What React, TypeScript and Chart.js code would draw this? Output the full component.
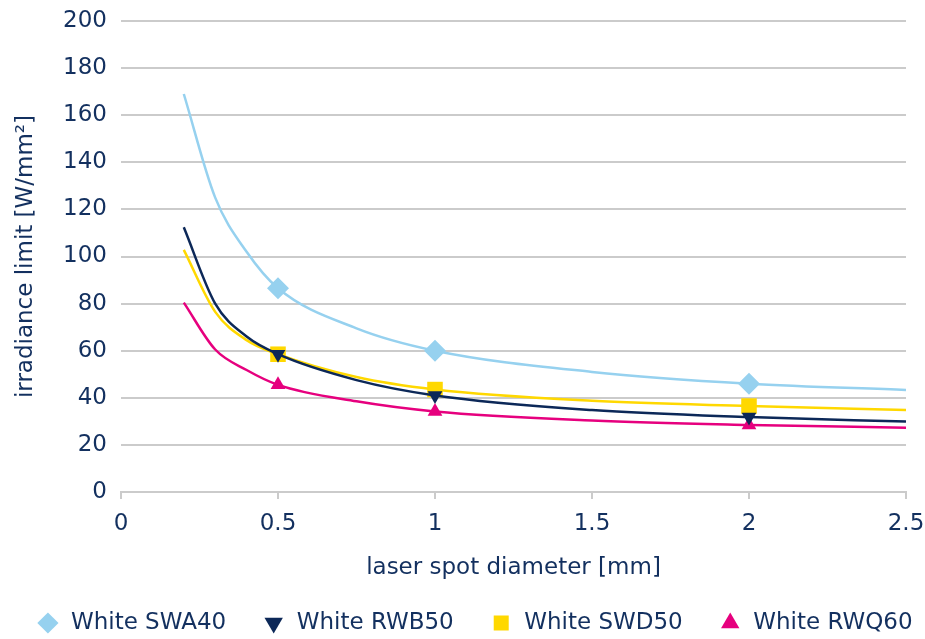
import React, { useEffect, useRef } from 'react';
import { Chart, registerables } from 'chart.js';

Chart.register(...registerables);

// ---- data ----
const diameters = [0.2, 0.3, 0.4, 0.5, 0.75, 1, 1.5, 2, 2.5];
const markerDiameters = [0.5, 1, 2];
const whiteSWA40 = [169, 125, 102, 86.5, 69.5, 60, 51, 46, 43.3];
const whiteRWB50 = [112.4, 80, 66, 58.5, 47.5, 41, 34.8, 31.8, 29.9];
const whiteSWD50 = [102.8, 76.5, 64.5, 58.5, 48.8, 43.5, 38.7, 36.5, 34.8];
const whiteRWQ60 = [80.4, 60.5, 51.8, 45.5, 38.5, 34.2, 30.4, 28.5, 27.3];
const seriesNames = ['White SWA40', 'White RWB50', 'White SWD50', 'White RWQ60'];
const xTitle = 'laser spot diameter [mm]';
const yTitle = 'irradiance limit [W/mm\u00B2]';

const TEXT = '#13305f';
const GRID = '#cbcbcb';
const FONT = 'DejaVu Sans';
const FS = 23;

export default function App() {
  const ref = useRef<HTMLCanvasElement | null>(null);

  useEffect(() => {
    if (!ref.current) return;
    const mk = (
      label: string,
      values: number[],
      color: string,
      style: string,
      radius: number,
      rotation = 0
    ) => ({
      label,
      data: diameters.map((d, i) => ({ x: d, y: values[i] })),
      borderColor: color,
      backgroundColor: color,
      borderWidth: 2.5,
      cubicInterpolationMode: 'monotone' as const,
      pointStyle: style,
      pointRotation: rotation,
      pointBorderWidth: 0,
      pointRadius: (ctx: any) =>
        markerDiameters.includes(diameters[ctx.dataIndex]) ? radius : 0,
      pointHoverRadius: (ctx: any) =>
        markerDiameters.includes(diameters[ctx.dataIndex]) ? radius : 0,
    });

    const chart = new Chart(ref.current, {
      type: 'line',
      data: {
        datasets: [
          mk(seriesNames[0], whiteSWA40, '#96d1ef', 'rectRot', 11),
          mk(seriesNames[1], whiteRWB50, '#0c2858', 'triangle', 8.5, 180),
          mk(seriesNames[2], whiteSWD50, '#ffd800', 'rect', 11),
          mk(seriesNames[3], whiteRWQ60, '#e6007e', 'triangle', 8.5),
        ] as any,
      },
      options: {
        animation: false,
        responsive: false,
        maintainAspectRatio: false,
        events: [],
        layout: { padding: { left: -8, right: -32, top: 21, bottom: -5.5 } },
        plugins: {
          legend: {
            position: 'bottom',
            labels: {
              usePointStyle: true,
              boxHeight: 15,
              padding: 36,
              color: TEXT,
              font: { family: FONT, size: FS },
            },
          },
          tooltip: { enabled: false },
        },
        scales: {
          x: {
            type: 'linear',
            min: 0,
            max: 2.5,
            afterFit: (s: any) => {
              s.height = 83.5;
              s.paddingRight = 19;
              s.paddingLeft = 0;
            },
            ticks: {
              stepSize: 0.5,
              color: TEXT,
              padding: 11,
              font: { family: FONT, size: FS },
              maxRotation: 0,
              callback: (v: any) => String(v),
            },
            grid: {
              drawOnChartArea: false,
              drawTicks: true,
              tickLength: 7,
              color: GRID,
              lineWidth: 2,
            },
            border: { color: GRID, width: 2 },
            title: {
              display: true,
              text: xTitle,
              color: TEXT,
              font: { family: FONT, size: FS },
              padding: { top: 0, bottom: -6.3 },
            },
          },
          y: {
            min: 0,
            max: 200,
            afterFit: (s: any) => {
              s.width = 129;
              s.paddingTop = 0;
              s.paddingBottom = 0;
            },
            ticks: {
              stepSize: 20,
              color: TEXT,
              padding: 14,
              font: { family: FONT, size: FS },
            },
            grid: { color: GRID, lineWidth: 2, drawTicks: false },
            border: { display: false },
            title: {
              display: true,
              text: yTitle,
              color: TEXT,
              font: { family: FONT, size: FS },
              padding: { top: 20, bottom: 0 },
            },
          },
        },
      } as any,
    });
    return () => chart.destroy();
  }, []);

  return (
    <div style={{ position: 'fixed', left: 0, top: 0, width: 925, height: 639, background: '#fff' }}>
      <canvas ref={ref} width={925} height={639} style={{ width: 925, height: 639 }} />
    </div>
  );
}
